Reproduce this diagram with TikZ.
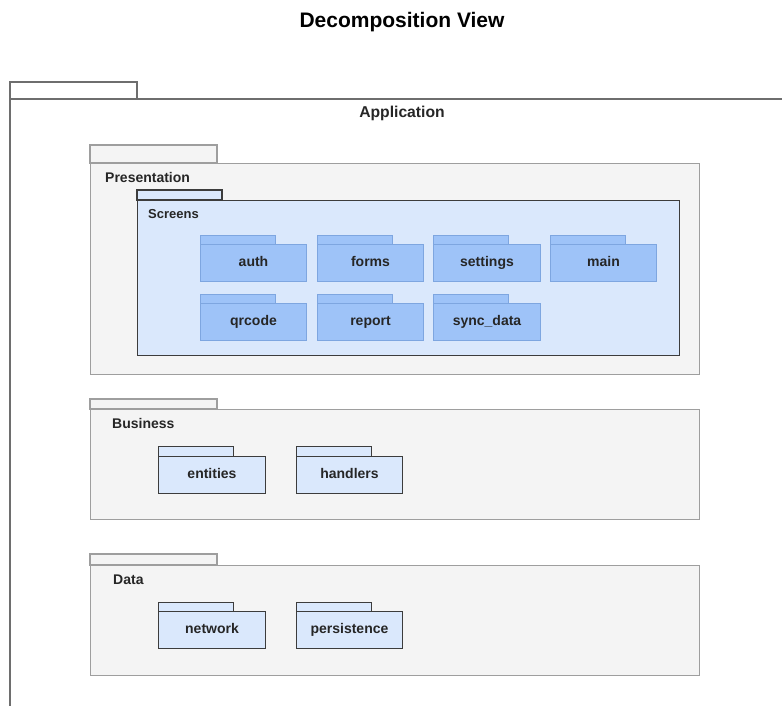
\documentclass[tikz,border=0pt]{standalone}
\usepackage{fontspec}
\setmainfont{Liberation Sans}
\definecolor{framegray}{HTML}{6E6E6E}
\definecolor{layerfill}{HTML}{F4F4F4}
\definecolor{layerline}{HTML}{9E9E9E}
\definecolor{lightblue}{HTML}{DAE8FC}
\definecolor{midblue}{HTML}{9EC3F8}
\definecolor{blueline}{HTML}{7EA6E0}
\definecolor{darkline}{HTML}{3C3C3C}
\tikzset{
  layer/.style={draw=layerline, fill=layerfill, line width=1.1pt},
  group/.style={draw=darkline, fill=lightblue, line width=1.1pt},
  screen/.style={draw=blueline, fill=midblue, line width=1pt},
  module/.style={draw=darkline, fill=lightblue, line width=1pt},
  lbl/.style={font=\bfseries\fontsize{14}{16}\selectfont, text=black!85, inner sep=0pt},
}
% #1 name, #2 style, #3 left, #4 top of body, #5 width, #6 height,
% #7 tab width, #8 tab height, #9 label
\newcommand\pkgbox[9]{%
  \draw[#2] (#3,#4) rectangle ++(#7,-#8);
  \node[#2, minimum width=#5pt, minimum height=#6pt, anchor=north west,
        inner sep=0pt, text height=10pt, text depth=3pt,
        font=\bfseries\fontsize{14}{16}\selectfont,
        text=black!85] (#1) at (#3,#4) {#9};%
}
\begin{document}
\begin{tikzpicture}[x=1pt,y=-1pt]
\useasboundingbox (0,0) rectangle (782,706);

\node[font=\bfseries\fontsize{21}{25}\selectfont, inner sep=0pt] (title) at (402,22) {Decomposition View};

% application frame, open to the right and below
\draw[framegray, line width=1.1pt] (10,99) rectangle (137,82);
\draw[framegray, line width=1.1pt] (10,706) -- (10,99) -- (782,99);
\node[lbl, font=\bfseries\fontsize{15.7}{18}\selectfont] (app) at (402,113) {Application};

% presentation layer
\pkgbox{pres}{layer}{90}{163}{609}{211}{127}{18}{}
\node[lbl, anchor=west] (presl) at (105,177) {Presentation};
\pkgbox{screens}{group}{137}{200}{542}{155}{85}{10}{}
\node[lbl, anchor=west, font=\bfseries\fontsize{13}{15}\selectfont] (screensl) at (148,214) {Screens};
\pkgbox{auth}{screen}{200}{244}{106}{37}{75}{9}{auth}
\pkgbox{forms}{screen}{317}{244}{106}{37}{75}{9}{forms}
\pkgbox{settings}{screen}{433}{244}{107}{37}{75}{9}{settings}
\pkgbox{main}{screen}{550}{244}{106}{37}{75}{9}{main}
\pkgbox{qrcode}{screen}{200}{303}{106}{37}{75}{9}{qrcode}
\pkgbox{report}{screen}{317}{303}{106}{37}{75}{9}{report}
\pkgbox{sync}{screen}{433}{303}{107}{37}{75}{9}{sync\_data}

% business layer
\pkgbox{business}{layer}{90}{409}{609}{110}{127}{10}{}
\node[lbl, anchor=west] (businessl) at (112,423) {Business};
\pkgbox{entities}{module}{158}{456}{107}{37}{75}{10}{entities}
\pkgbox{handlers}{module}{296}{456}{106}{37}{75}{10}{handlers}

% data layer
\pkgbox{data}{layer}{90}{565}{609}{110}{127}{11}{}
\node[lbl, anchor=west] (datal) at (113,580) {Data};
\pkgbox{network}{module}{158}{611}{107}{37}{75}{9}{network}
\pkgbox{persist}{module}{296}{611}{106}{37}{75}{9}{persistence}
\end{tikzpicture}
\end{document}
